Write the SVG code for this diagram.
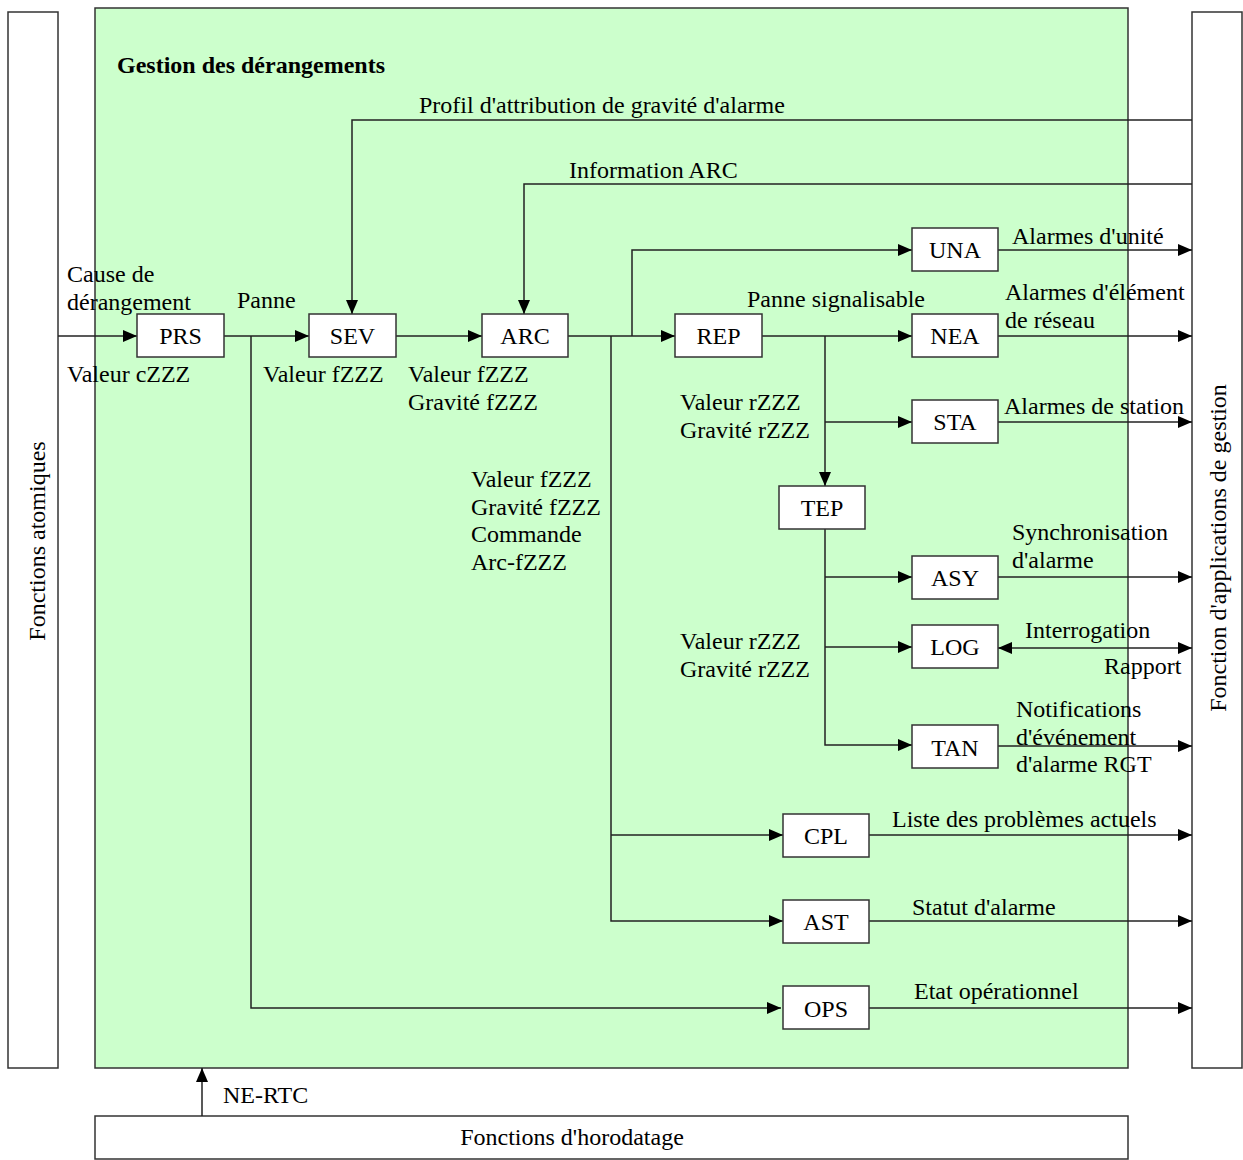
<svg xmlns="http://www.w3.org/2000/svg" width="1243" height="1160" viewBox="0 0 1243 1160">
<style>
text{font-family:"Liberation Serif","Times New Roman",serif;font-size:24px;fill:#000}
.b{font-weight:bold}
.box{fill:#fff;stroke:#333;stroke-width:1.5}
.c{fill:none;stroke:#222;stroke-width:1.5}
.m{text-anchor:middle}
</style>
<defs>
<marker id="a" viewBox="0 0 14 12" refX="14" refY="6" markerWidth="14" markerHeight="12" markerUnits="userSpaceOnUse" orient="auto-start-reverse"><path d="M0,0L14,6L0,12z" fill="#000"/></marker>
</defs>
<g id="frame">
<rect x="8" y="12" width="50" height="1056" class="box"/>
<rect x="95" y="8" width="1033" height="1060" fill="#CCFFCC" stroke="#333" stroke-width="1.5"/>
<rect x="1192" y="12" width="50" height="1056" class="box"/>
<rect x="95" y="1116" width="1033" height="43" class="box"/>
</g>
<g id="connectors">
<path class="c" d="M58,336H137" marker-end="url(#a)"/>
<path class="c" d="M224,336H309" marker-end="url(#a)"/>
<path class="c" d="M251,336V1008H781" marker-end="url(#a)"/>
<path class="c" d="M396,336H482" marker-end="url(#a)"/>
<path class="c" d="M1192,120H352V314" marker-end="url(#a)"/>
<path class="c" d="M1192,184H524V314" marker-end="url(#a)"/>
<path class="c" d="M568,336H675" marker-end="url(#a)"/>
<path class="c" d="M632,336V250H912" marker-end="url(#a)"/>
<path class="c" d="M611,336V921H783" marker-end="url(#a)"/>
<path class="c" d="M611,835H783" marker-end="url(#a)"/>
<path class="c" d="M762,336H912" marker-end="url(#a)"/>
<path class="c" d="M825,336V486" marker-end="url(#a)"/>
<path class="c" d="M825,422H912" marker-end="url(#a)"/>
<path class="c" d="M825,529V745H912" marker-end="url(#a)"/>
<path class="c" d="M825,577H912" marker-end="url(#a)"/>
<path class="c" d="M825,647H912" marker-end="url(#a)"/>
<path class="c" d="M998,250H1192" marker-end="url(#a)"/>
<path class="c" d="M998,336H1192" marker-end="url(#a)"/>
<path class="c" d="M998,422H1192" marker-end="url(#a)"/>
<path class="c" d="M998,577H1192" marker-end="url(#a)"/>
<path class="c" d="M998,648H1192" marker-start="url(#a)" marker-end="url(#a)"/>
<path class="c" d="M998,746H1192" marker-end="url(#a)"/>
<path class="c" d="M869,835H1192" marker-end="url(#a)"/>
<path class="c" d="M869,921H1192" marker-end="url(#a)"/>
<path class="c" d="M869,1008H1192" marker-end="url(#a)"/>
<path class="c" d="M202,1116V1068" marker-end="url(#a)"/>
</g>
<g id="PRS"><rect x="137" y="314" width="87" height="43" class="box"/><text x="180.5" y="344" class="m">PRS</text></g>
<g id="SEV"><rect x="309" y="314" width="87" height="43" class="box"/><text x="352.5" y="344" class="m">SEV</text></g>
<g id="ARC"><rect x="482" y="314" width="86" height="43" class="box"/><text x="525" y="344" class="m">ARC</text></g>
<g id="REP"><rect x="675" y="314" width="87" height="43" class="box"/><text x="718.5" y="344" class="m">REP</text></g>
<g id="UNA"><rect x="912" y="228" width="86" height="43" class="box"/><text x="955" y="258" class="m">UNA</text></g>
<g id="NEA"><rect x="912" y="314" width="86" height="43" class="box"/><text x="955" y="344" class="m">NEA</text></g>
<g id="STA"><rect x="912" y="400" width="86" height="43" class="box"/><text x="955" y="430" class="m">STA</text></g>
<g id="TEP"><rect x="779" y="486" width="86" height="43" class="box"/><text x="822" y="516" class="m">TEP</text></g>
<g id="ASY"><rect x="912" y="556" width="86" height="43" class="box"/><text x="955" y="586" class="m">ASY</text></g>
<g id="LOG"><rect x="912" y="625" width="86" height="43" class="box"/><text x="955" y="655" class="m">LOG</text></g>
<g id="TAN"><rect x="912" y="725" width="86" height="43" class="box"/><text x="955" y="756" class="m">TAN</text></g>
<g id="CPL"><rect x="783" y="814" width="86" height="43" class="box"/><text x="826" y="844" class="m">CPL</text></g>
<g id="AST"><rect x="783" y="900" width="86" height="43" class="box"/><text x="826" y="930" class="m">AST</text></g>
<g id="OPS"><rect x="783" y="986" width="86" height="43" class="box"/><text x="826" y="1017" class="m">OPS</text></g>
<g id="labels">
<text x="117" y="73" class="b">Gestion des dérangements</text>
<text x="419" y="113">Profil d'attribution de gravité d'alarme</text>
<text x="569" y="178">Information ARC</text>
<text x="67" y="282">Cause de</text>
<text x="67" y="310">dérangement</text>
<text x="237" y="308">Panne</text>
<text x="67" y="382">Valeur cZZZ</text>
<text x="263" y="382">Valeur fZZZ</text>
<text x="408" y="382">Valeur fZZZ</text>
<text x="408" y="410">Gravité fZZZ</text>
<text x="471" y="487">Valeur fZZZ</text>
<text x="471" y="515">Gravité fZZZ</text>
<text x="471" y="542">Commande</text>
<text x="471" y="570">Arc-fZZZ</text>
<text x="747" y="307">Panne signalisable</text>
<text x="680" y="410">Valeur rZZZ</text>
<text x="680" y="438">Gravité rZZZ</text>
<text x="680" y="649">Valeur rZZZ</text>
<text x="680" y="677">Gravité rZZZ</text>
<text x="1012" y="244">Alarmes d'unité</text>
<text x="1005" y="300">Alarmes d'élément</text>
<text x="1005" y="328">de réseau</text>
<text x="1004" y="414">Alarmes de station</text>
<text x="1012" y="540">Synchronisation</text>
<text x="1012" y="568">d'alarme</text>
<text x="1025" y="638">Interrogation</text>
<text x="1104" y="674">Rapport</text>
<text x="1016" y="717">Notifications</text>
<text x="1016" y="745">d'événement</text>
<text x="1016" y="772">d'alarme RGT</text>
<text x="892" y="827">Liste des problèmes actuels</text>
<text x="912" y="915">Statut d'alarme</text>
<text x="914" y="999">Etat opérationnel</text>
<text x="223" y="1103">NE-RTC</text>
<text x="572" y="1145" class="m">Fonctions d'horodatage</text>
<text x="0" y="0" class="m" transform="translate(45,541) rotate(-90)">Fonctions atomiques</text>
<text x="0" y="0" class="m" transform="translate(1226,548) rotate(-90)">Fonction d'applications de gestion</text>
</g>
</svg>
